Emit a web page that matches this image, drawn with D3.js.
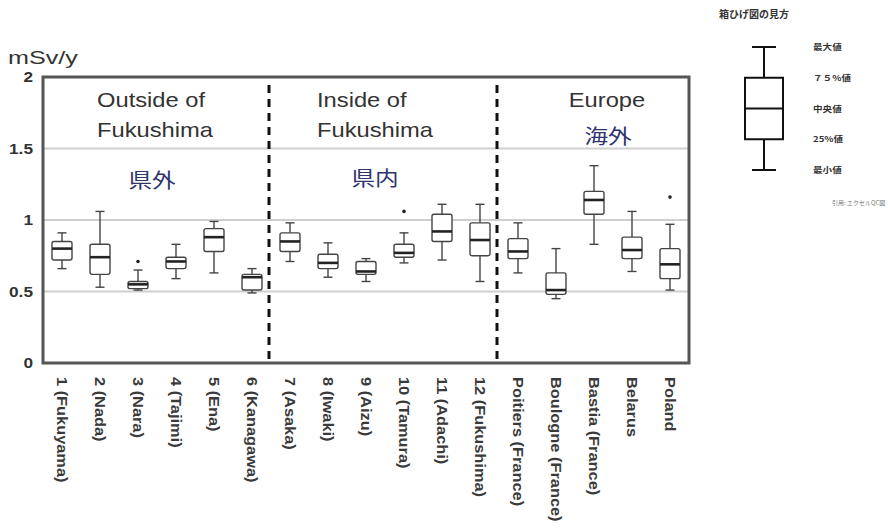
<!DOCTYPE html>
<html lang="ja">
<head>
    <meta charset="utf-8">
    <title>mSv/y box plots</title>
    <script src="https://d3js.org/d3.v7.min.js"></script>
    <style>
        body { margin: 0; background: #fff; }
        text { font-family: "Liberation Sans", Arial, sans-serif; }
        .jp { font-family: "Noto Sans CJK JP", sans-serif; }
    </style>
</head>
<body>

<script>
    // sites, in order of the x axis
    const sites = ['1 (Fukuyama)', '2 (Nada)', '3 (Nara)', '4 (Tajimi)', '5 (Ena)', '6 (Kanagawa)',
        '7 (Asaka)', '8 (Iwaki)', '9 (Aizu)', '10 (Tamura)', '11 (Adachi)', '12 (Fukushima)',
        'Poitiers (France)', 'Boulogne (France)', 'Bastia (France)', 'Belarus', 'Poland'];

    // box plot stats (mSv/y)
    const whiskLow  = [0.66, 0.53, 0.51, 0.59, 0.63, 0.49, 0.71, 0.60, 0.57, 0.70, 0.72, 0.57, 0.63, 0.45, 0.83, 0.64, 0.51];
    const q1        = [0.72, 0.62, 0.52, 0.66, 0.78, 0.51, 0.78, 0.66, 0.62, 0.74, 0.85, 0.75, 0.73, 0.48, 1.04, 0.73, 0.59];
    const medians   = [0.80, 0.74, 0.55, 0.71, 0.88, 0.60, 0.85, 0.70, 0.64, 0.77, 0.92, 0.86, 0.78, 0.51, 1.14, 0.79, 0.69];
    const q3        = [0.85, 0.83, 0.57, 0.74, 0.94, 0.62, 0.91, 0.76, 0.71, 0.83, 1.04, 0.98, 0.87, 0.63, 1.20, 0.88, 0.80];
    const whiskHigh = [0.91, 1.06, 0.65, 0.83, 0.99, 0.66, 0.98, 0.84, 0.73, 0.91, 1.11, 1.11, 0.98, 0.80, 1.38, 1.06, 0.97];
    const outliers  = [[], [], [0.71], [], [], [], [], [], [], [1.06], [], [], [], [], [], [], [1.16]];

    const yTicks = [0, 0.5, 1, 1.5, 2];
    const gridVals = [0.5, 1, 1.5];

    // groups: [first site index, last site index]
    const groups = [
        {en: ['Outside of', 'Fukushima'], jp: '県外', from: 0, to: 5},
        {en: ['Inside of', 'Fukushima'], jp: '県内', from: 6, to: 11},
        {en: ['Europe'], jp: '海外', from: 12, to: 16}
    ];

    const legendTitle = '箱ひげ図の見方';
    const legendLabels = ['最大値', '７５%値', '中央値', '25%値', '最小値'];
    const legendNote = '引用: エクセルQC図';

    const W = 892, H = 526;
    const svg = d3.select('body').append('svg').attr('width', W).attr('height', H);

    const plot = {left: 43, right: 689, top: 77, bottom: 363};

    const x = d3.scaleBand().domain(sites).range([plot.left, plot.right]);
    const y = d3.scaleLinear().domain([0, 2]).range([plot.bottom, plot.top]);

    // grid lines
    svg.append('g')
        .selectAll('line')
        .data(gridVals).join('line')
        .attr('x1', plot.left).attr('x2', plot.right)
        .attr('y1', d => y(d)).attr('y2', d => y(d))
        .attr('stroke', '#cfcfcf').attr('stroke-width', 2);

    // frame
    svg.append('rect')
        .attr('x', plot.left).attr('y', plot.top)
        .attr('width', plot.right - plot.left).attr('height', plot.bottom - plot.top)
        .attr('fill', 'none').attr('stroke', '#555').attr('stroke-width', 3);

    // y axis labels
    const yAxis = svg.append('g')
        .attr('transform', `translate(${plot.left - 10},0)`)
        .call(d3.axisLeft(y).tickValues(yTicks).tickFormat(d3.format('')).tickSize(0).tickPadding(0));
    yAxis.select('.domain').remove();
    yAxis.selectAll('text')
        .attr('font-size', 15).attr('font-weight', 'bold').attr('fill', '#333')
        .attr('font-family', '"Liberation Sans", Arial, sans-serif')
        .attr('transform', 'scale(1.15,1)');

    svg.append('text')
        .attr('transform', 'translate(8,64) scale(1.4,1)')
        .attr('font-size', 18).attr('fill', '#333')
        .text('mSv/y');

    // x axis labels, rotated
    const xAxis = svg.append('g')
        .attr('transform', `translate(0,${plot.bottom + 14})`)
        .call(d3.axisBottom(x).tickSize(0).tickPadding(0));
    xAxis.select('.domain').remove();
    xAxis.selectAll('text')
        .attr('font-size', 14).attr('font-weight', 'bold').attr('fill', '#3a3a3a')
        .attr('font-family', '"Liberation Sans", Arial, sans-serif')
        .attr('text-anchor', 'start')
        .attr('dy', '0.38em')
        .attr('transform', 'rotate(90) scale(1.17,1)');

    // group separators
    const sepXs = groups.slice(1).map(g => x(sites[g.from]) - 2);
    svg.append('g')
        .selectAll('line')
        .data(sepXs).join('line')
        .attr('x1', d => d).attr('x2', d => d)
        .attr('y1', plot.top + 8).attr('y2', plot.bottom - 2)
        .attr('stroke', '#111').attr('stroke-width', 3)
        .attr('stroke-dasharray', '8,6');

    // group titles
    const gTitle = svg.append('g');
    groups.forEach((g, i) => {
        const anchorEn = i < 2 ? 'start' : 'middle';
        const enX = i === 0 ? 97 : (i === 1 ? 317 : 607);
        gTitle.append('text')
            .attr('transform', `translate(${enX},107) scale(1.13,1)`)
            .attr('text-anchor', anchorEn)
            .attr('font-size', 21).attr('fill', '#333')
            .selectAll('tspan')
            .data(g.en).join('tspan')
            .attr('x', 0).attr('dy', (d, k) => k === 0 ? 0 : 30)
            .text(d => d);
        const jpX = i === 0 ? 152 : (i === 1 ? 375 : 608);
        const jpY = i === 0 ? 188 : (i === 1 ? 186 : 144);
        gTitle.append('text')
            .attr('class', 'jp')
            .attr('transform', `translate(${jpX},${jpY}) scale(1.18,1)`)
            .attr('text-anchor', 'middle')
            .attr('font-size', 20).attr('fill', '#2f3470')
            .text(g.jp);
    });

    // box plots
    const bw = 20, cap = 9;
    const boxes = svg.append('g')
        .selectAll('g')
        .data(sites).join('g')
        .attr('transform', d => `translate(${x(d) + x.bandwidth() / 2},0)`);

    boxes.append('line')
        .attr('y1', (d, i) => y(whiskHigh[i])).attr('y2', (d, i) => y(q3[i]))
        .attr('stroke', '#444').attr('stroke-width', 1.4);
    boxes.append('line')
        .attr('y1', (d, i) => y(q1[i])).attr('y2', (d, i) => y(whiskLow[i]))
        .attr('stroke', '#444').attr('stroke-width', 1.4);
    boxes.append('line')
        .attr('x1', -cap / 2).attr('x2', cap / 2)
        .attr('y1', (d, i) => y(whiskHigh[i])).attr('y2', (d, i) => y(whiskHigh[i]))
        .attr('stroke', '#444').attr('stroke-width', 1.4);
    boxes.append('line')
        .attr('x1', -cap / 2).attr('x2', cap / 2)
        .attr('y1', (d, i) => y(whiskLow[i])).attr('y2', (d, i) => y(whiskLow[i]))
        .attr('stroke', '#444').attr('stroke-width', 1.4);
    boxes.append('rect')
        .attr('x', -bw / 2).attr('width', bw)
        .attr('y', (d, i) => y(q3[i]))
        .attr('height', (d, i) => y(q1[i]) - y(q3[i]))
        .attr('rx', 2)
        .attr('fill', '#fff').attr('stroke', '#444').attr('stroke-width', 1.4);
    boxes.append('line')
        .attr('x1', -bw / 2).attr('x2', bw / 2)
        .attr('y1', (d, i) => y(medians[i])).attr('y2', (d, i) => y(medians[i]))
        .attr('stroke', '#222').attr('stroke-width', 2.6);
    boxes.each(function (d, i) {
        d3.select(this).selectAll('circle')
            .data(outliers[i]).join('circle')
            .attr('cy', v => y(v)).attr('r', 1.8)
            .attr('fill', '#222');
    });

    // legend: how to read a box plot
    const leg = svg.append('g');
    leg.append('text')
        .attr('class', 'jp')
        .attr('x', 719).attr('y', 18)
        .attr('font-size', 10).attr('font-weight', 'bold').attr('fill', '#333')
        .text(legendTitle);

    const ly = d3.scalePoint().domain(legendLabels).range([47, 170]);
    const lx = 764;
    leg.append('line')
        .attr('x1', lx).attr('x2', lx)
        .attr('y1', ly(legendLabels[0])).attr('y2', ly(legendLabels[4]))
        .attr('stroke', '#111').attr('stroke-width', 2);
    leg.selectAll('line.cap')
        .data([legendLabels[0], legendLabels[4]]).join('line')
        .attr('class', 'cap')
        .attr('x1', lx - 12).attr('x2', lx + 12)
        .attr('y1', d => ly(d)).attr('y2', d => ly(d))
        .attr('stroke', '#111').attr('stroke-width', 2);
    leg.append('rect')
        .attr('x', lx - 19).attr('width', 38)
        .attr('y', ly(legendLabels[1]))
        .attr('height', ly(legendLabels[3]) - ly(legendLabels[1]))
        .attr('fill', '#fff').attr('stroke', '#111').attr('stroke-width', 2);
    leg.append('line')
        .attr('x1', lx - 19).attr('x2', lx + 19)
        .attr('y1', ly(legendLabels[2])).attr('y2', ly(legendLabels[2]))
        .attr('stroke', '#111').attr('stroke-width', 2);
    leg.selectAll('text.lab')
        .data(legendLabels).join('text')
        .attr('class', 'lab jp')
        .attr('transform', d => `translate(813,${ly(d) + 3}) scale(1.2,1)`)
        .attr('font-size', 8).attr('font-weight', 'bold').attr('fill', '#333')
        .text(d => d);
    leg.append('text')
        .attr('class', 'jp')
        .attr('x', 832).attr('y', 205)
        .attr('font-size', 6).attr('fill', '#777')
        .text(legendNote);
</script>

</body>
</html>
